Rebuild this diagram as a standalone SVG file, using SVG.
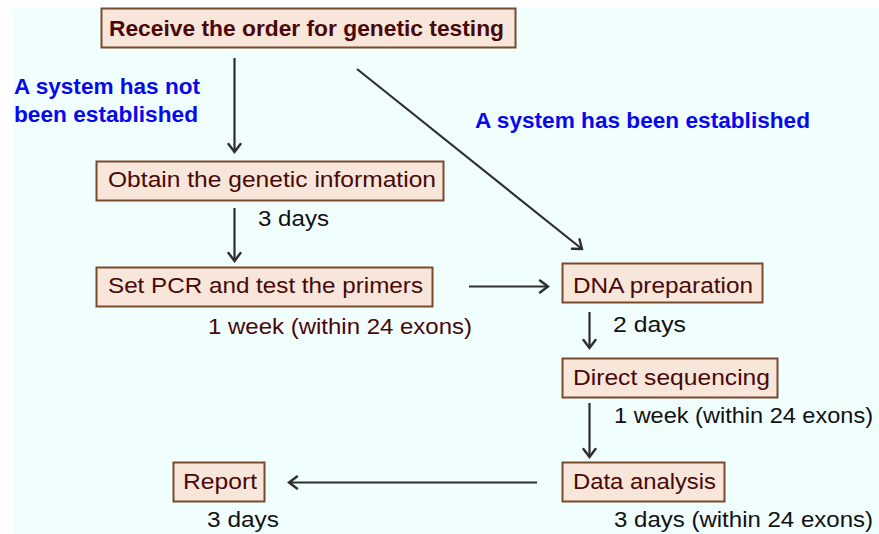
<svg xmlns="http://www.w3.org/2000/svg" width="879" height="534" viewBox="0 0 879 534">
<defs>
<marker id="ah" viewBox="-10 -8 12 16" refX="0" refY="0" markerWidth="12" markerHeight="16" markerUnits="userSpaceOnUse" orient="auto">
<path d="M-8,-6 L0,0 L-8,6" fill="none" stroke="#2e2e2e" stroke-width="2.4" stroke-linejoin="miter" stroke-linecap="round"/>
</marker>
<style>
.box{fill:#f7e6d9;stroke:#7a4a2c;stroke-width:2}
.bt{font-family:"Liberation Sans",Arial,sans-serif;font-size:22px;fill:#4a0808}
.bold{font-weight:bold}
.blue{font-family:"Liberation Sans",Arial,sans-serif;font-size:22px;font-weight:bold;fill:#0808ee}
.lab{font-family:"Liberation Sans",Arial,sans-serif;font-size:22px;fill:#111111}
.red{fill:#4a0808}
.conn line{stroke:#2e2e2e;stroke-width:2.2;marker-end:url(#ah)}
</style>
</defs>
<rect x="13" y="8" width="866" height="526" fill="#f0fefe"/>

<g id="n-receive">
<rect class="box" x="101.5" y="8.5" width="414" height="39"/>
<text class="bt bold" x="109" y="36" textLength="395" lengthAdjust="spacingAndGlyphs">Receive the order for genetic testing</text>
</g>
<g id="n-obtain">
<rect class="box" x="96.5" y="161.5" width="347" height="39"/>
<text class="bt" x="108" y="187" textLength="328" lengthAdjust="spacingAndGlyphs">Obtain the genetic information</text>
</g>
<g id="n-pcr">
<rect class="box" x="96.5" y="267.5" width="336" height="39"/>
<text class="bt" x="108" y="293" textLength="315" lengthAdjust="spacingAndGlyphs">Set PCR and test the primers</text>
</g>
<g id="n-dna">
<rect class="box" x="562.5" y="263.5" width="200" height="39"/>
<text class="bt" x="573" y="293" textLength="180" lengthAdjust="spacingAndGlyphs">DNA preparation</text>
</g>
<g id="n-seq">
<rect class="box" x="562.5" y="358.5" width="215" height="39"/>
<text class="bt" x="573" y="385" textLength="197" lengthAdjust="spacingAndGlyphs">Direct sequencing</text>
</g>
<g id="n-data">
<rect class="box" x="562.5" y="462.5" width="162" height="39"/>
<text class="bt" x="573" y="489" textLength="143" lengthAdjust="spacingAndGlyphs">Data analysis</text>
</g>
<g id="n-report">
<rect class="box" x="173.5" y="462.5" width="91" height="39"/>
<text class="bt" x="183" y="489" textLength="74" lengthAdjust="spacingAndGlyphs">Report</text>
</g>

<g id="connectors" class="conn">
<line x1="234.5" y1="58" x2="234.5" y2="152"/>
<line x1="357" y1="69" x2="582" y2="249"/>
<line x1="234.5" y1="208" x2="234.5" y2="261"/>
<line x1="469" y1="286.5" x2="548" y2="286.5"/>
<line x1="589.5" y1="312" x2="589.5" y2="348"/>
<line x1="589.5" y1="403" x2="589.5" y2="457"/>
<line x1="537" y1="482.5" x2="289" y2="482.5"/>
</g>

<g id="labels">
<text class="blue" x="14" y="94" textLength="186" lengthAdjust="spacingAndGlyphs">A system has not</text>
<text class="blue" x="14" y="122" textLength="184" lengthAdjust="spacingAndGlyphs">been established</text>
<text class="blue" x="475" y="128" textLength="335" lengthAdjust="spacingAndGlyphs">A system has been established</text>
<text class="lab" x="258" y="226" textLength="71" lengthAdjust="spacingAndGlyphs">3 days</text>
<text class="lab red" x="208" y="334" textLength="264" lengthAdjust="spacingAndGlyphs">1 week (within 24 exons)</text>
<text class="lab" x="613" y="332" textLength="73" lengthAdjust="spacingAndGlyphs">2 days</text>
<text class="lab" x="614" y="423" textLength="259" lengthAdjust="spacingAndGlyphs">1 week (within 24 exons)</text>
<text class="lab" x="614" y="527" textLength="259" lengthAdjust="spacingAndGlyphs">3 days (within 24 exons)</text>
<text class="lab" x="207" y="527" textLength="72" lengthAdjust="spacingAndGlyphs">3 days</text>
</g>
</svg>
